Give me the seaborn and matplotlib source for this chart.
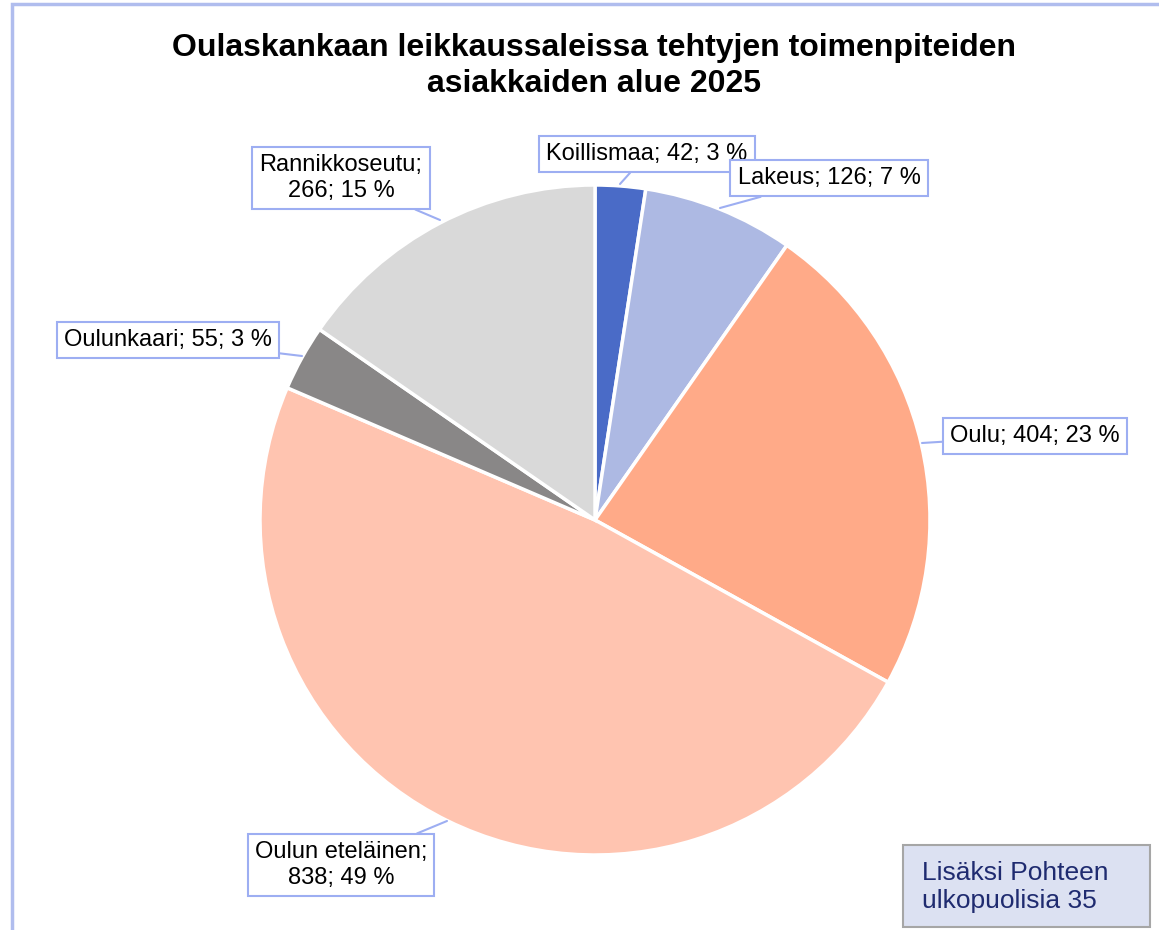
import matplotlib
matplotlib.use("Agg")
import matplotlib.pyplot as plt
import seaborn as sns
from matplotlib.patches import Rectangle

# Data
alueet = ["Koillismaa", "Lakeus", "Oulu", "Oulun eteläinen", "Oulunkaari", "Rannikkoseutu"]
maarat = [42, 126, 404, 838, 55, 266]
osuudet = [3, 7, 23, 49, 3, 15]
label_texts = ["Koillismaa; 42; 3 %", "Lakeus; 126; 7 %", "Oulu; 404; 23 %",
               "Oulun eteläinen;\n838; 49 %", "Oulunkaari; 55; 3 %", "Rannikkoseutu;\n266; 15 %"]
colors = ["#4A6BC7", "#ADB9E3", "#FFAA88", "#FFC4B0", "#898787", "#D9D9D9"]
title = "Oulaskankaan leikkaussaleissa tehtyjen toimenpiteiden\nasiakkaiden alue 2025"
note = "Lisäksi Pohteen\nulkopuolisia 35"

sns.set_style("white")
plt.rcParams['font.family'] = ['Liberation Sans', 'DejaVu Sans']
plt.rcParams['text.color'] = 'black'

W, H = 1159, 930
fig = plt.figure(figsize=(W / 100, H / 100), dpi=100)

# chart area border (cropped on right/bottom)
fig.patches.append(Rectangle((12 / W, -0.1), 1.2, 1.1 - 4.5 / H, transform=fig.transFigure,
                             fill=False, edgecolor="#B0BDEE", linewidth=2.5))

cx, cy, r = 595, 520, 335
ax = fig.add_axes([(cx - r) / W, (H - cy - r) / H, 2 * r / W, 2 * r / H])
ax.pie(maarat, colors=colors, startangle=90, counterclock=False,
       wedgeprops=dict(edgecolor="white", linewidth=2.5))
ax.set_xlim(-1, 1)
ax.set_ylim(-1, 1)
ax.set_aspect("auto")
ax.axis("off")

fig.text(594 / W, 1 - 66 / H, title, ha="center", va="center", fontsize=23,
         fontweight="bold", linespacing=1.3)

# label boxes: (text center px, pointer tip px)
label_pos = [((647, 154), (620, 184)),
             ((829, 178), (720, 208)),
             ((1035, 436), (922, 443)),
             ((341, 865), (447, 821)),
             ((168, 340), (302, 356)),
             ((341, 178), (440, 220))]
for txt, (tc, tip) in zip(label_texts, label_pos):
    ax.annotate(txt, xy=(tip[0], H - tip[1]), xycoords="figure pixels",
                xytext=(tc[0], H - tc[1]), textcoords="figure pixels",
                ha="center", va="center", fontsize=17, linespacing=1.2,
                bbox=dict(boxstyle="square,pad=0.3", facecolor="white",
                          edgecolor="#9DAEF2", linewidth=1.5),
                arrowprops=dict(arrowstyle="-", color="#9DAEF2", linewidth=1.5,
                                shrinkA=0, shrinkB=0),
                zorder=5)

# note box
fig.patches.append(Rectangle((903 / W, 1 - 927 / H), 247 / W, 82 / H, transform=fig.transFigure,
                             facecolor="#DCE1F2", edgecolor="#A6A6A6", linewidth=1.5))
fig.text(922 / W, 1 - 887 / H, note, ha="left", va="center", fontsize=19,
         color="#1F2B70", linespacing=1.2)

fig.savefig("out.png", dpi=100)
